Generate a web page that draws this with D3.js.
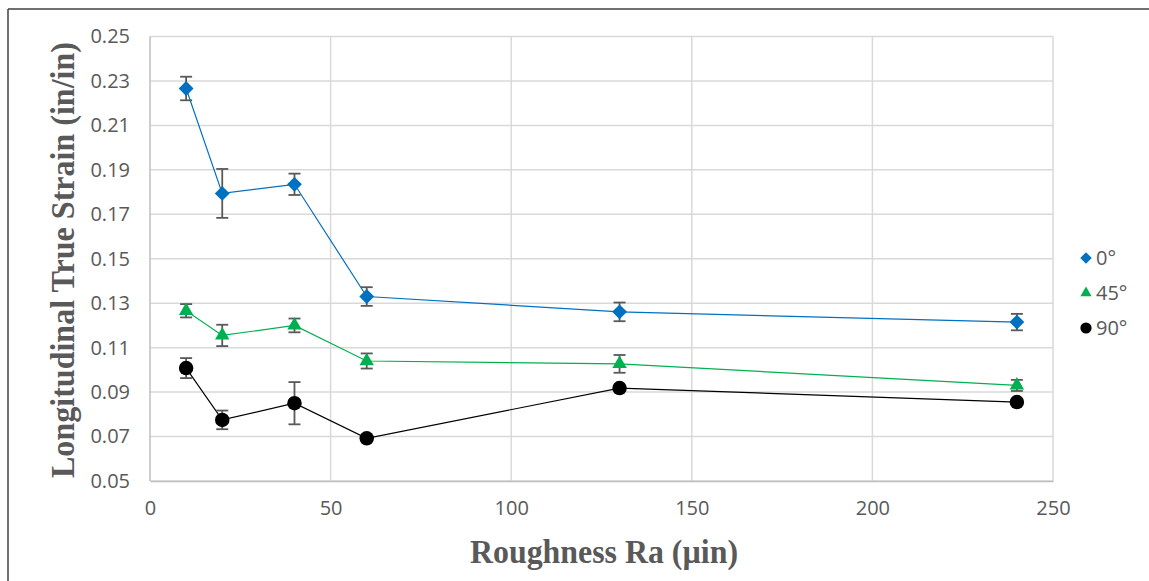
<!DOCTYPE html>
<html>
<head>
<meta charset="utf-8">
<script src="https://cdn.jsdelivr.net/npm/d3@7"></script>
<style>
  body { margin: 0; background: #fff; }
  svg { display: block; }
  .tick text { font-family: "Open Sans", sans-serif; fill: #595959; }
</style>
</head>
<body>
<svg id="chart" width="1149" height="581"></svg>
<script>
const roughness = [10, 20, 40, 60, 130, 240];

const strain0 = [0.2266, 0.1794, 0.1835, 0.1330, 0.1261, 0.1215];
const err0 = [0.0053, 0.0110, 0.0048, 0.0042, 0.0042, 0.0037];

const strain45 = [0.1266, 0.1155, 0.1200, 0.1040, 0.1027, 0.0930];
const err45 = [0.0030, 0.0048, 0.0031, 0.0034, 0.0040, 0.0025];

const strain90 = [0.1008, 0.0775, 0.0850, 0.0692, 0.0918, 0.0855];
const err90 = [0.0045, 0.0042, 0.0095, 0.0010, 0.0008, 0.0008];

const seriesNames = ["0°", "45°", "90°"];
const xTicks = [0, 50, 100, 150, 200, 250];
const yTicks = [0.05, 0.07, 0.09, 0.11, 0.13, 0.15, 0.17, 0.19, 0.21, 0.23, 0.25];

const series = [
  { name: seriesNames[0], values: strain0, errs: err0, color: "#0070C0", shape: d3.symbolDiamond2, size: 140 },
  { name: seriesNames[1], values: strain45, errs: err45, color: "#00B050", shape: d3.symbolTriangle, size: 90 },
  { name: seriesNames[2], values: strain90, errs: err90, color: "#000000", shape: d3.symbolCircle, size: 165 }
];

const svg = d3.select("#chart");

// outer frame (top + left only, like the cropped source)
svg.append("line").attr("x1", 8).attr("x2", 1149).attr("y1", 9).attr("y2", 9)
  .attr("stroke", "#404040").attr("stroke-width", 1.5);
svg.append("line").attr("x1", 8).attr("x2", 8).attr("y1", 9).attr("y2", 581)
  .attr("stroke", "#404040").attr("stroke-width", 1.5);

const plotL = 150, plotR = 1053, plotT = 36.5, plotB = 481;

const x = d3.scaleLinear().domain([0, 250]).range([plotL, plotR]);
const y = d3.scaleLinear().domain([0.05, 0.25]).range([plotB, plotT]);

// gridlines
const grid = svg.append("g");
grid.selectAll(".hg").data(yTicks).enter().append("line")
  .attr("x1", plotL).attr("x2", plotR)
  .attr("y1", d => y(d)).attr("y2", d => y(d))
  .attr("stroke", "#d9d9d9").attr("stroke-width", 1.5);
grid.selectAll(".vg").data(xTicks).enter().append("line")
  .attr("x1", d => x(d)).attr("x2", d => x(d))
  .attr("y1", plotT).attr("y2", plotB)
  .attr("stroke", d => d === 0 ? "#bfbfbf" : "#d9d9d9").attr("stroke-width", 1.5);

// axes (labels only)
const xAxis = svg.append("g").attr("transform", `translate(0,${plotB})`)
  .call(d3.axisBottom(x).tickValues(xTicks).tickSize(0).tickPadding(20).tickFormat(d3.format("d")));
xAxis.select(".domain").attr("stroke", "#bfbfbf").attr("stroke-width", 1.5);
xAxis.selectAll("text").attr("font-size", 20);

const yAxis = svg.append("g").attr("transform", `translate(${plotL},0)`)
  .call(d3.axisLeft(y).tickValues(yTicks).tickSize(0).tickPadding(20).tickFormat(d3.format(".2f")));
yAxis.select(".domain").remove();
yAxis.selectAll("text").attr("font-size", 20);

// series
const line = d3.line().x(d => x(d[0])).y(d => y(d[1]));

series.forEach(s => {
  const pts = roughness.map((r, i) => [r, s.values[i], s.errs[i]]);
  svg.append("path").datum(pts).attr("d", line)
    .attr("fill", "none").attr("stroke", s.color).attr("stroke-width", 1.2);

  const eb = svg.append("g");
  eb.selectAll("line.v").data(pts).enter().append("line")
    .attr("x1", d => x(d[0])).attr("x2", d => x(d[0]))
    .attr("y1", d => y(d[1] + d[2])).attr("y2", d => y(d[1] - d[2]))
    .attr("stroke", "#595959").attr("stroke-width", 1.8);
  [1, -1].forEach(sign => {
    eb.selectAll("line.c" + sign).data(pts).enter().append("line")
      .attr("x1", d => x(d[0]) - 6).attr("x2", d => x(d[0]) + 6)
      .attr("y1", d => y(d[1] + sign * d[2])).attr("y2", d => y(d[1] + sign * d[2]))
      .attr("stroke", "#595959").attr("stroke-width", 1.8);
  });

  svg.append("g").selectAll("path").data(pts).enter().append("path")
    .attr("d", d3.symbol().type(s.shape).size(s.size))
    .attr("transform", d => `translate(${x(d[0])},${y(d[1])})`)
    .attr("fill", s.color);
});

// legend
const legend = svg.append("g").attr("transform", "translate(1086,258)");
series.forEach((s, i) => {
  const g = legend.append("g").attr("transform", `translate(0,${i * 35})`);
  g.append("path").attr("d", d3.symbol().type(s.shape).size(s.size * 0.6)).attr("fill", s.color);
  g.append("text").attr("x", 10).attr("dy", "0.35em")
    .attr("font-family", "'Open Sans', sans-serif").attr("font-size", 20)
    .attr("fill", "#595959").text(s.name);
});

// axis titles
svg.append("text")
  .attr("x", 604).attr("y", 563)
  .attr("text-anchor", "middle")
  .attr("font-family", "'Liberation Serif', serif").attr("font-weight", "bold")
  .attr("font-size", 33).attr("fill", "#595959")
  .attr("textLength", 268).attr("lengthAdjust", "spacingAndGlyphs")
  .text("Roughness Ra (µin)");

svg.append("text")
  .attr("transform", "translate(74,260) rotate(-90)")
  .attr("text-anchor", "middle")
  .attr("font-family", "'Liberation Serif', serif").attr("font-weight", "bold")
  .attr("font-size", 33).attr("fill", "#595959")
  .attr("textLength", 436).attr("lengthAdjust", "spacingAndGlyphs")
  .text("Longitudinal True Strain (in/in)");
</script>
</body>
</html>
